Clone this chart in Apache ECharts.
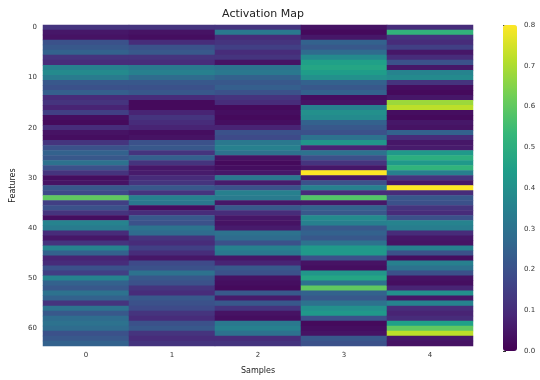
<!DOCTYPE html>
<html>
<head>
<meta charset="utf-8">
<script src="https://cdn.jsdelivr.net/npm/echarts@6/dist/echarts.min.js"></script>
<style>
  html, body { margin: 0; padding: 0; background: #fff; }
  #chart { width: 540px; height: 380px; }
</style>
</head>
<body>
<div id="chart"></div>
<script>
// samples on x, features on y
const samples = ['0', '1', '2', '3', '4'];
const features = Array.from({ length: 64 }, (_, i) => String(i));
const colorTicks = [0, 0.1, 0.2, 0.3, 0.4, 0.5, 0.6, 0.7, 0.8];

// activation per feature (rows 0..63), one array per sample
const sample0 = [0.12,0.05,0.04,0.2,0.22,0.25,0.12,0.1,0.35,0.38,0.33,0.22,0.2,0.24,0.1,0.12,
  0.08,0.15,0.03,0.02,0.1,0.04,0.03,0.12,0.2,0.25,0.22,0.3,0.2,0.12,0.03,0.04,
  0.22,0.18,0.6,0.15,0.2,0.12,0.03,0.36,0.33,0.1,0.05,0.12,0.36,0.25,0.08,0.1,
  0.2,0.15,0.36,0.25,0.22,0.3,0.25,0.12,0.3,0.22,0.28,0.3,0.28,0.2,0.22,0.25];
const sample1 = [0.12,0.04,0.03,0.1,0.2,0.22,0.12,0.1,0.32,0.35,0.28,0.22,0.2,0.22,0.1,0.02,
  0.02,0.08,0.12,0.1,0.08,0.03,0.04,0.2,0.22,0.12,0.24,0.12,0.05,0.06,0.1,0.12,
  0.22,0.12,0.35,0.32,0.03,0.1,0.22,0.2,0.3,0.28,0.12,0.1,0.15,0.1,0.05,0.18,
  0.2,0.3,0.22,0.2,0.12,0.1,0.22,0.2,0.18,0.12,0.1,0.2,0.22,0.12,0.1,0.12];
const sample2 = [0.12,0.32,0.1,0.12,0.15,0.1,0.12,0.04,0.3,0.32,0.25,0.22,0.24,0.2,0.12,0.1,
  0.02,0.03,0.02,0.03,0.08,0.2,0.18,0.32,0.35,0.3,0.04,0.02,0.03,0.05,0.32,0.06,
  0.2,0.35,0.33,0.05,0.22,0.1,0.05,0.04,0.06,0.3,0.28,0.2,0.35,0.32,0.05,0.08,
  0.22,0.2,0.04,0.03,0.02,0.22,0.06,0.22,0.12,0.04,0.03,0.32,0.35,0.3,0.1,0.12];
const sample3 = [0.04,0.02,0.05,0.25,0.22,0.28,0.38,0.45,0.47,0.44,0.4,0.25,0.22,0.25,0.03,0.04,
  0.35,0.4,0.38,0.25,0.22,0.2,0.3,0.42,0.08,0.3,0.2,0.12,0.05,0.8,0.05,0.2,
  0.35,0.1,0.58,0.05,0.25,0.22,0.38,0.35,0.22,0.25,0.22,0.3,0.43,0.43,0.2,0.04,
  0.03,0.42,0.47,0.3,0.6,0.25,0.22,0.3,0.4,0.43,0.2,0.02,0.03,0.04,0.22,0.2];
const sample4 = [0.1,0.52,0.12,0.1,0.15,0.05,0.1,0.2,0.05,0.36,0.38,0.12,0.03,0.02,0.05,0.68,
  0.72,0.03,0.02,0.05,0.04,0.25,0.1,0.05,0.06,0.43,0.5,0.43,0.52,0.35,0.12,0.05,
  0.8,0.1,0.22,0.2,0.12,0.1,0.2,0.36,0.34,0.1,0.05,0.04,0.35,0.2,0.03,0.35,
  0.3,0.2,0.04,0.03,0.08,0.4,0.05,0.36,0.1,0.08,0.1,0.45,0.6,0.72,0.05,0.04];

const columns = [sample0, sample1, sample2, sample3, sample4];
const cells = [];
columns.forEach((col, x) => col.forEach((v, y) => cells.push([x, y, v])));

const viridis = ['#440154', '#482878', '#3e4989', '#31688e', '#26828e',
  '#1f9e89', '#35b779', '#6ece58', '#b5de2b', '#fde725'];

const font = 'DejaVu Sans';
const chart = echarts.init(document.getElementById('chart'));

chart.setOption({
  animation: false,
  textStyle: { fontFamily: font },
  title: {
    text: 'Activation Map',
    left: 258, top: 4, textAlign: 'center',
    textStyle: { fontFamily: font, fontSize: 11, fontWeight: 'normal', color: '#222' }
  },
  grid: [
    { left: 43, top: 25, width: 430, height: 326 },
    { left: 503, top: 25, width: 14, height: 326 }
  ],
  xAxis: [
    {
      gridIndex: 0, type: 'category', data: samples,
      name: 'Samples', nameLocation: 'middle', nameGap: 21,
      nameTextStyle: { fontSize: 8, color: '#222' },
      axisLine: { show: false },
      axisTick: { alignWithLabel: true, length: 3, lineStyle: { color: '#333' } },
      axisLabel: { fontSize: 7, color: '#333', margin: 6 },
      splitLine: { show: false }
    },
    { gridIndex: 1, type: 'value', show: false, min: 0, max: 1 }
  ],
  yAxis: [
    {
      gridIndex: 0, type: 'category', data: features, inverse: true,
      name: 'Features', nameLocation: 'middle', nameGap: 26, nameRotate: 90,
      nameTextStyle: { fontSize: 8, color: '#222' },
      axisLine: { show: false },
      axisTick: { alignWithLabel: true, length: 3, interval: (i) => i % 10 === 0, lineStyle: { color: '#333' } },
      axisLabel: { fontSize: 7, color: '#333', margin: 6, interval: (i) => i % 10 === 0 },
      splitLine: { show: false }
    },
    {
      gridIndex: 1, type: 'value', position: 'right',
      min: colorTicks[0], max: colorTicks[colorTicks.length - 1], interval: 0.1,
      axisLine: { show: false },
      axisTick: { show: true, length: 3, lineStyle: { color: '#333' } },
      axisLabel: { fontSize: 7, color: '#333', margin: 7, formatter: (v) => v.toFixed(1) },
      splitLine: { show: false }
    }
  ],
  visualMap: {
    type: 'continuous',
    min: 0, max: 0.8,
    calculable: false,
    seriesIndex: 0,
    orient: 'vertical',
    left: 503, top: 25,
    itemWidth: 14, itemHeight: 326,
    text: ['', ''],
    padding: 0,
    inRange: { color: viridis }
  },
  series: [
    {
      type: 'heatmap',
      xAxisIndex: 0, yAxisIndex: 0,
      data: cells,
      emphasis: { disabled: true },
      itemStyle: { borderWidth: 0 }
    },
    {
      type: 'scatter', xAxisIndex: 1, yAxisIndex: 1, data: [], silent: true
    }
  ]
});
</script>
</body>
</html>
